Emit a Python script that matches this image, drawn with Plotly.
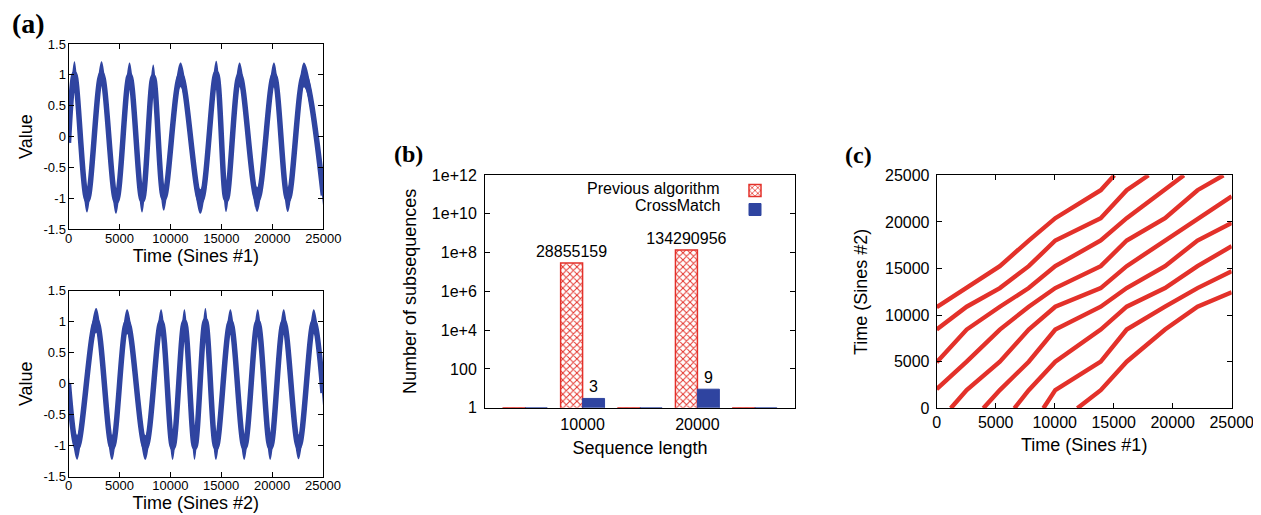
import plotly.graph_objects as go

W, H = 1261, 515
OFF = 8  # the page body keeps an 8 px margin around the figure
FW, FH = W - OFF, H - OFF

# ---------------- (a) noisy sine sequences: turning points
sines1_time = [0, 589, 1832, 3240, 4679, 5988, 7232, 8312, 9359, 10995, 12958,
               14496, 15478, 16786, 18521, 20157, 21531, 23102, 25000]
sines1_value = [-0.1, 1.02, -1.03, 1.02, -1.05, 1.0, -1.03, 0.97, -1.0, 1.0, -1.05,
                1.03, -1.02, 1.0, -1.02, 1.0, -1.02, 1.0, -0.95]
sines2_time = [0, 851, 2716, 4287, 5759, 7559, 9097, 10242, 11387, 12402, 13449,
               14496, 15903, 17277, 18586, 19830, 21139, 22611, 24084, 25000]
sines2_value = [0.0, -1.03, 1.02, -1.03, 1.0, -1.03, 1.0, -1.03, 1.0, -1.03, 1.02,
                -1.03, 1.0, -1.03, 1.0, -1.03, 1.0, -1.02, 1.0, -0.15]
noise_half_width = 0.2
value_ticks = [-1.5, -1, -0.5, 0, 0.5, 1, 1.5]
value_tick_text = ["-1.5", "-1", "-0.5", "0", "0.5", "1", "1.5"]

# ---------------- (b) number of subsequences
group_pos = [0, 1, 2, 3, 4]
length_tick_pos = [1, 3]
length_tick_text = ["10000", "20000"]
previous_counts = [1, 28855159, 1, 134290956, 1]
crossmatch_counts = [1, 3, 1, 9, 1]
count_ticks = [1, 1e2, 1e4, 1e6, 1e8, 1e10, 1e12]
count_tick_text = ["1", "100", "1e+4", "1e+6", "1e+8", "1e+10", "1e+12"]

# ---------------- (c) warping paths (Sines #1 time, Sines #2 time)
warp_x = [
    [0, 2540, 5350, 7800, 10050, 13900, 15050],
    [0, 2540, 5350, 7800, 10050, 13900, 16100, 17950],
    [0, 2540, 5350, 7800, 10050, 13900, 16100, 19350, 20950],
    [0, 2540, 5350, 7800, 10050, 13900, 16100, 19350, 22100, 24300],
    [1190, 2540, 5350, 7800, 10050, 13900, 16100, 19350, 22100, 25000],
    [3950, 5350, 7800, 10050, 13900, 16100, 19350, 22100, 25000],
    [6580, 7800, 10050, 13900, 16100, 19350, 22100, 25000],
    [9040, 10050, 13900, 16100, 19350, 22100, 25000],
    [11920, 13900, 16100, 19350, 22100, 25000],
]
warp_y = [
    [10850, 12900, 15250, 18000, 20400, 23400, 25000],
    [8450, 10900, 12900, 15250, 18000, 20400, 23400, 25000],
    [4950, 8450, 10900, 12900, 15250, 18000, 20400, 23400, 25000],
    [2050, 5000, 8450, 10900, 12900, 15250, 18000, 20400, 23400, 25000],
    [0, 1950, 5000, 8450, 10900, 12900, 15250, 18000, 20400, 22750],
    [0, 1950, 5000, 8450, 10900, 12900, 15250, 18000, 19900],
    [0, 1950, 5000, 8450, 10900, 12900, 15250, 17400],
    [0, 1950, 5000, 8450, 10900, 12900, 14700],
    [0, 1950, 5000, 8450, 10900, 12450],
]
time_ticks = [0, 5000, 10000, 15000, 20000, 25000]

BLUE = "#2f44a0"
RED = "#e3312a"
FONT = "Liberation Sans"


def xd(a, b):
    return [(a - OFF) / FW, (b - OFF) / FW]


def yd(top, bottom):
    return [1 - (bottom - OFF) / FH, 1 - (top - OFF) / FH]


def px(x):
    return (x - OFF) / FW


def py(y):
    return 1 - (y - OFF) / FH


fig = go.Figure()


def add_wave(times, values, xa, ya):
    lower = [v - noise_half_width for v in values]
    upper = [v + noise_half_width for v in values]
    fig.add_trace(go.Scatter(x=times, y=lower, mode="lines", line=dict(width=0, color=BLUE, shape="spline"),
                             xaxis=xa, yaxis=ya, showlegend=False, hoverinfo="skip"))
    fig.add_trace(go.Scatter(x=times, y=upper, mode="lines", line=dict(width=0, color=BLUE, shape="spline"),
                             fill="tonexty", fillcolor=BLUE,
                             xaxis=xa, yaxis=ya, showlegend=False, hoverinfo="skip"))
    fig.add_trace(go.Scatter(x=times, y=values, mode="lines", line=dict(width=5.5, color=BLUE, shape="spline"),
                             xaxis=xa, yaxis=ya, showlegend=False))


add_wave(sines1_time, sines1_value, "x", "y")
add_wave(sines2_time, sines2_value, "x2", "y2")

prev_text = [str(v) if v > 1 else "" for v in previous_counts]
cross_text = [str(v) if v > 1 else "" for v in crossmatch_counts]
fig.add_trace(go.Bar(x=group_pos, y=previous_counts, name=" ", text=prev_text,
                     textposition="outside", cliponaxis=False, constraintext="none",
                     textfont=dict(size=16, color="black", family=FONT),
                     marker=dict(color="white", line=dict(color=RED, width=1.5),
                                 pattern=dict(shape="x", fgcolor=RED, bgcolor="white", size=5, solidity=0.35)),
                     xaxis="x3", yaxis="y3"))
fig.add_trace(go.Bar(x=group_pos, y=crossmatch_counts, name="  ", text=cross_text,
                     textposition="outside", cliponaxis=False, constraintext="none",
                     textfont=dict(size=16, color="black", family=FONT),
                     marker=dict(color=BLUE, line=dict(color=BLUE, width=1)),
                     xaxis="x3", yaxis="y3"))

for wx, wy in zip(warp_x, warp_y):
    fig.add_trace(go.Scatter(x=wx, y=wy, mode="lines", line=dict(color=RED, width=4.4),
                             xaxis="x4", yaxis="y4", showlegend=False))

base = dict(showline=True, linecolor="black", linewidth=1, mirror="ticks", ticks="inside",
            ticklen=5, tickcolor="black", showgrid=False, zeroline=False, automargin=False)

small_tick = dict(size=13, family=FONT, color="black")
big_tick = dict(size=16, family=FONT, color="black")
title_font = dict(size=18, family=FONT, color="black")

fig.update_layout(
    template="none",
    width=FW, height=FH, margin=dict(l=0, r=0, t=0, b=0, pad=0),
    paper_bgcolor="white", plot_bgcolor="white",
    font=dict(family=FONT, color="black"),
    barmode="group", bargap=0.235, bargroupgap=0,
    xaxis=dict(base, domain=xd(68.5, 323.3), anchor="y", range=[0, 25000], tickvals=time_ticks,
               tickformat="d", tickfont=small_tick, ticklabelstandoff=-3,
               title=dict(text="Time (Sines #1)", font=title_font, standoff=3)),
    yaxis=dict(base, domain=yd(44, 229.3), anchor="x", range=[-1.5, 1.5], tickvals=value_ticks,
               ticktext=value_tick_text, tickfont=small_tick, ticklabelstandoff=-1,
               title=dict(text="Value", font=title_font, standoff=6)),
    xaxis2=dict(base, domain=xd(68.5, 323), anchor="y2", range=[0, 25000], tickvals=time_ticks,
                tickformat="d", tickfont=small_tick, ticklabelstandoff=-3,
                title=dict(text="Time (Sines #2)", font=title_font, standoff=3)),
    yaxis2=dict(base, domain=yd(290.7, 476.7), anchor="x2", range=[-1.5, 1.5], tickvals=value_ticks,
                ticktext=value_tick_text, tickfont=small_tick, ticklabelstandoff=-1,
                title=dict(text="Value", font=title_font, standoff=6)),
    xaxis3=dict(showline=True, linecolor="black", linewidth=1, mirror=True, ticks="",
                showgrid=False, zeroline=False, automargin=False,
                domain=xd(485, 795), anchor="y3", range=[-0.7, 4.7],
                tickvals=length_tick_pos, ticktext=length_tick_text, tickfont=big_tick,
                ticklabelstandoff=2,
                title=dict(text="Sequence length", font=title_font, standoff=9)),
    yaxis3=dict(base, type="log", domain=yd(175, 407.7), anchor="x3", range=[0, 12],
                tickvals=count_ticks, ticktext=count_tick_text, tickfont=big_tick,
                ticklabelstandoff=4,
                title=dict(text="Number of subsequences", font=title_font, standoff=10)),
    xaxis4=dict(base, domain=xd(936.7, 1231.7), anchor="y4", range=[0, 25000], tickvals=time_ticks,
                tickformat="d", tickfont=big_tick, ticklabelstandoff=-1,
                title=dict(text="Time (Sines #1)", font=title_font, standoff=8)),
    yaxis4=dict(base, domain=yd(175.3, 408.3), anchor="x4", range=[0, 25000], tickvals=time_ticks,
                tickformat="d", tickfont=big_tick, ticklabelstandoff=3,
                title=dict(text="Time (Sines #2)", font=title_font, standoff=12)),
    legend=dict(x=px(735), y=py(176), xanchor="left", yanchor="top", traceorder="normal",
                bgcolor="rgba(0,0,0,0)", font=dict(size=12, family=FONT), itemwidth=30,
                tracegroupgap=0),
    showlegend=True,
)

panel_font = dict(family="Liberation Serif", size=28, color="black")
fig.add_annotation(text="<b>(a)</b>", x=px(10), y=py(23), xref="paper", yref="paper",
                   showarrow=False, font=panel_font, xanchor="left", yanchor="middle")
fig.add_annotation(text="<b>(b)</b>", x=px(408), y=py(154), xref="paper", yref="paper",
                   showarrow=False, font=dict(panel_font, size=24), xanchor="center", yanchor="middle")
fig.add_annotation(text="<b>(c)</b>", x=px(858), y=py(155), xref="paper", yref="paper",
                   showarrow=False, font=dict(panel_font, size=24), xanchor="center", yanchor="middle")

legend_font = dict(family=FONT, size=16, color="black")
fig.add_annotation(text="Previous algorithm", x=px(722), y=py(188), xref="paper", yref="paper",
                   showarrow=False, font=legend_font, xanchor="right", yanchor="middle")
fig.add_annotation(text="CrossMatch", x=px(722), y=py(205), xref="paper", yref="paper",
                   showarrow=False, font=legend_font, xanchor="right", yanchor="middle")

fig.write_html("out.html")
